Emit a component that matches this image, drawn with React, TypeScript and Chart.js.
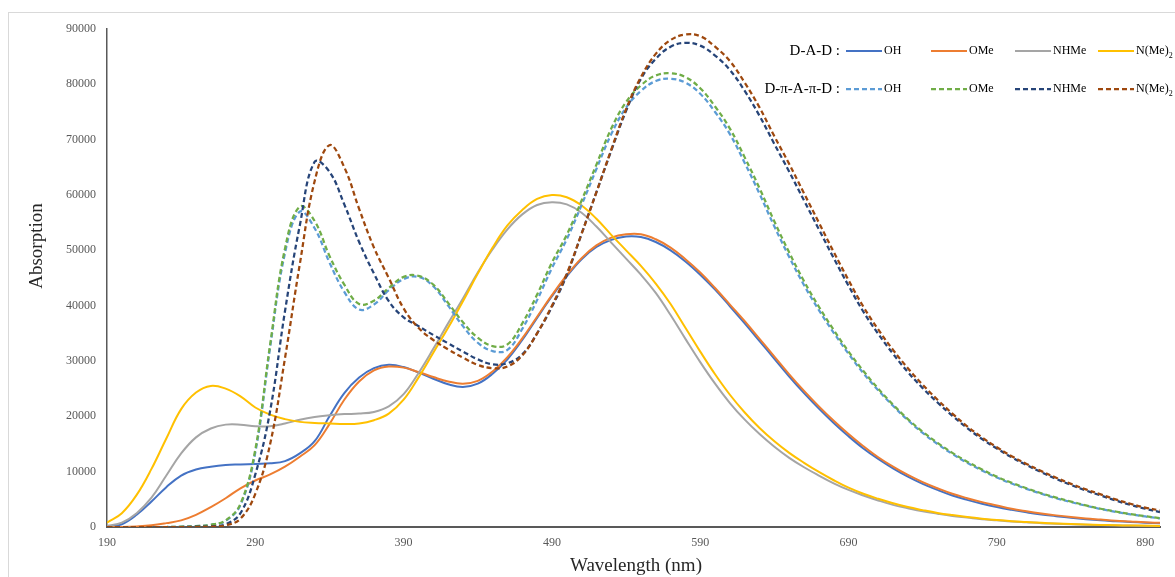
import React, { useEffect, useRef } from "react";
import { Chart, registerables } from "chart.js";

Chart.register(...registerables);

// Wavelength grid (nm)
const wavelengths = [
  190, 200, 210, 220, 230, 240, 250, 260, 270, 280, 290, 300, 310, 320, 330, 340, 350, 360,
  370, 380, 390, 400, 410, 420, 430, 440, 450, 460, 470, 480, 490, 500, 510, 520, 530, 540,
  550, 560, 570, 580, 590, 600, 610, 620, 630, 640, 650, 660, 670, 680, 690, 700, 710, 720,
  730, 740, 750, 760, 770, 780, 790, 800, 810, 820, 830, 840, 850, 860, 870, 880, 890, 900,
];

const xTickValues = [190, 290, 390, 490, 590, 690, 790, 890];
const yMin = 0;
const yMax = 90000;
const yStep = 10000;

const substituents = ["OH", "OMe", "NHMe", "N(Me)2"];
const groupNames = ["D-A-D :", "D-π-A-π-D :"];

// D-A-D series
const dadOH = [
  0, 500, 2200, 4600, 7200, 9300, 10400, 10900, 11200, 11300, 11400, 11500, 11900, 13300, 15500, 20000, 24200, 27000,
  28700, 29300, 28900, 27900, 26800, 25800, 25300, 25900, 27700, 30300, 33800, 37800, 41700, 45300, 48400, 50600, 51900, 52500,
  52400, 51500, 50000, 48000, 45600, 42900, 39900, 36800, 33600, 30400, 27200, 24200, 21400, 18800, 16400, 14200, 12300, 10600,
  9100, 7800, 6700, 5700, 4900, 4200, 3600, 3100, 2650, 2250, 1950, 1650, 1400, 1200, 1050, 900, 780, 680,
];
const dadOMe = [
  0, 0, 100, 300, 700, 1200, 2200, 3600, 5200, 7000, 8400, 9500, 10900, 12700, 14800, 18600, 23000, 26300,
  28300, 29000, 28800, 28000, 27100, 26300, 25900, 26400, 28100, 30700, 34100, 38000, 41900, 45500, 48600, 50900, 52300, 52900,
  52900, 52000, 50500, 48400, 46000, 43200, 40200, 37200, 34000, 30800, 27600, 24600, 21800, 19200, 16800, 14600, 12600, 10900,
  9400, 8100, 7000, 6000, 5200, 4500, 3900, 3300, 2850, 2450, 2100, 1800, 1550, 1350, 1150, 1000, 850, 750,
];
const dadNHMe = [
  200, 800, 2500, 5300, 9300, 13300, 16200, 17800, 18500, 18500, 18200, 18200, 18700, 19400, 19900, 20200, 20400, 20500,
  20800, 21800, 24000, 27800, 32200, 36800, 41300, 46000, 50200, 53800, 56500, 58200, 58700, 58300, 56800, 54300, 51400, 48500,
  45600, 42300, 38300, 34000, 29800, 25900, 22400, 19400, 16800, 14500, 12500, 10800, 9300, 7900, 6700, 5700, 4800, 4000,
  3400, 2850, 2400, 2000, 1700, 1400, 1200, 1000, 850, 700, 600, 500, 420, 350, 300, 250, 210, 180,
];
const dadNMe2 = [
  800, 2500, 5800, 10500, 16000, 21300, 24300, 25500, 25000, 23600, 21600, 20300, 19500, 19000, 18800, 18700, 18600, 18700,
  19300, 20500, 23000, 27000, 31500, 36000, 40800, 45800, 50500, 54500, 57300, 59300, 60000, 59600, 58100, 55700, 52800, 50000,
  47200, 44000, 40300, 36000, 31700, 27600, 23900, 20700, 17900, 15500, 13400, 11600, 9950, 8450, 7100, 6000, 5100, 4300,
  3600, 3050, 2550, 2150, 1800, 1500, 1250, 1050, 900, 750, 640, 540, 450, 380, 320, 270, 230, 190,
];

// D-π-A-π-D series
const dpdOH = [
  0, 0, 0, 0, 0, 50, 150, 400, 1100, 4000, 13500, 32500, 49500, 57000, 54000, 47800, 42500, 39300,
  40200, 42800, 44800, 45200, 43500, 40000, 36300, 33300, 31800, 32000, 35800, 41000, 46800, 52000, 58200, 64700, 71000, 75800,
  78800, 80600, 81000, 80300, 78300, 75000, 71000, 65800, 60200, 54300, 48800, 43700, 39200, 35100, 31300, 27800, 24700, 21900,
  19300, 17000, 15000, 13200, 11600, 10200, 8950, 7850, 6900, 6000, 5200, 4500, 3850, 3250, 2750, 2300, 1900, 1550,
];
const dpdOMe = [
  0, 0, 0, 0, 0, 50, 150, 400, 1200, 4200, 14000, 33000, 50300, 57900, 55300, 49000, 43800, 40300,
  40900, 43200, 45200, 45400, 43800, 40500, 37000, 34200, 32700, 33000, 36800, 42000, 47800, 52800, 59000, 65500, 72000, 76800,
  79800, 81600, 82000, 81300, 79300, 76000, 72000, 66800, 61200, 55200, 49600, 44400, 39800, 35600, 31700, 28200, 25000, 22100,
  19500, 17200, 15200, 13400, 11800, 10400, 9100, 8000, 7000, 6100, 5300, 4600, 3900, 3300, 2800, 2350, 1950, 1600,
];
const dpdNHMe = [
  0, 0, 0, 0, 0, 0, 50, 100, 500, 2500, 9500, 21000, 39000, 54500, 66000, 64200, 58300, 51500,
  45800, 40800, 37900, 36300, 34700, 33200, 31700, 30300, 29400, 29600, 31200, 35000, 39800, 45500, 53000, 60500, 68000, 75200,
  81000, 84600, 86800, 87500, 87000, 85200, 82600, 78800, 74300, 69200, 64200, 59000, 53800, 48600, 43600, 38900, 34900, 31300,
  28000, 25100, 22500, 20100, 17900, 15900, 14200, 12600, 11200, 9900, 8700, 7600, 6600, 5700, 4800, 4000, 3300, 2700,
];
const dpdNMe2 = [
  0, 0, 0, 0, 0, 0, 0, 50, 300, 1500, 6000, 15000, 30500, 47500, 62500, 69000, 65000, 57500,
  50500, 45000, 39500, 36000, 33800, 32100, 30600, 29300, 28700, 29000, 31000, 35000, 40000, 45800, 53000, 60500, 68200, 75500,
  81300, 85500, 88000, 89000, 88700, 86800, 84200, 80300, 75800, 70600, 65600, 60300, 55000, 49700, 44600, 39800, 35700, 32000,
  28700, 25700, 23000, 20500, 18200, 16200, 14400, 12800, 11400, 10100, 8900, 7800, 6800, 5900, 5000, 4200, 3500, 3000,
];

const solidColors = ["#4472C4", "#ED7D31", "#A5A5A5", "#FFC000"];
const dashedColors = ["#5B9BD5", "#70AD47", "#264478", "#9E480E"];
const DASH = [5, 3];

const FONT = "'Liberation Serif', 'Times New Roman', serif";

export default function App() {
  const ref = useRef<HTMLCanvasElement>(null);

  useEffect(() => {
    const canvas = ref.current;
    if (!canvas) return;

    const solidSeries = [dadOH, dadOMe, dadNHMe, dadNMe2];
    const dashedSeries = [dpdOH, dpdOMe, dpdNHMe, dpdNMe2];

    const toPoints = (vals: number[]) => wavelengths.map((w, i) => ({ x: w, y: vals[i] }));

    const datasets: any[] = [];
    solidSeries.forEach((vals, i) => {
      datasets.push({
        label: "D-A-D " + substituents[i],
        data: toPoints(vals),
        borderColor: solidColors[i],
        backgroundColor: solidColors[i],
        borderWidth: 2,
        pointRadius: 0,
        tension: 0.4,
        fill: false,
      });
    });
    dashedSeries.forEach((vals, i) => {
      datasets.push({
        label: "D-π-A-π-D " + substituents[i],
        data: toPoints(vals),
        borderColor: dashedColors[i],
        backgroundColor: dashedColors[i],
        borderWidth: 2.25,
        borderDash: DASH,
        pointRadius: 0,
        tension: 0.4,
        fill: false,
      });
    });
    // later series drawn on top (like the spreadsheet original)
    datasets.forEach((d, i) => (d.order = datasets.length - 1 - i));

    const decor = {
      id: "decor",
      beforeDraw(chart: any) {
        const ctx = chart.ctx;
        ctx.save();
        ctx.fillStyle = "#ffffff";
        ctx.fillRect(0, 0, chart.width, chart.height);
        ctx.strokeStyle = "#D9D9D9";
        ctx.lineWidth = 1;
        ctx.strokeRect(8.5, 12.5, 1400, 800);
        ctx.restore();
      },
      afterDraw(chart: any) {
        const ctx = chart.ctx;
        ctx.save();
        // axis titles
        ctx.fillStyle = "#262626";
        ctx.font = `19px ${FONT}`;
        ctx.textAlign = "center";
        ctx.textBaseline = "middle";
        ctx.fillText("Wavelength (nm)", 636, 566);
        ctx.save();
        ctx.translate(37, 246);
        ctx.rotate(-Math.PI / 2);
        ctx.fillText("Absorption", 0, 0);
        ctx.restore();

        // legend
        const rows = [51, 89];
        const lineStarts = [846, 931, 1015, 1098];
        const lineLen = 36;
        rows.forEach((ry, r) => {
          ctx.font = `15px ${FONT}`;
          ctx.fillStyle = "#000000";
          ctx.textAlign = "right";
          ctx.textBaseline = "middle";
          ctx.fillText(groupNames[r], 840, ry);
          for (let i = 0; i < 4; i++) {
            const x0 = lineStarts[i];
            ctx.beginPath();
            ctx.strokeStyle = r === 0 ? solidColors[i] : dashedColors[i];
            ctx.lineWidth = r === 0 ? 2 : 2.25;
            ctx.setLineDash(r === 0 ? [] : DASH);
            ctx.moveTo(x0, ry);
            ctx.lineTo(x0 + lineLen, ry);
            ctx.stroke();
            ctx.setLineDash([]);
            ctx.fillStyle = "#000000";
            ctx.textAlign = "left";
            ctx.font = `12px ${FONT}`;
            const name = substituents[i];
            if (name.endsWith("2")) {
              const main = name.slice(0, -1);
              ctx.fillText(main, x0 + lineLen + 2, ry);
              const w = ctx.measureText(main).width;
              ctx.font = `8px ${FONT}`;
              ctx.fillText("2", x0 + lineLen + 2 + w, ry + 5);
            } else {
              ctx.fillText(name, x0 + lineLen + 2, ry);
            }
          }
        });
        ctx.restore();
      },
    };

    const chart = new Chart(canvas, {
      type: "line",
      data: { datasets },
      options: {
        animation: false,
        responsive: false,
        maintainAspectRatio: false,
        layout: { padding: { left: 0, right: 15, top: 29, bottom: 0 } },
        plugins: {
          legend: { display: false },
          tooltip: { enabled: false },
        },
        elements: { point: { radius: 0 } },
        scales: {
          x: {
            type: "linear",
            min: wavelengths[0],
            max: wavelengths[wavelengths.length - 1],
            afterBuildTicks: (s: any) => {
              s.ticks = xTickValues.map((v) => ({ value: v }));
            },
            afterFit: (s: any) => {
              s.height = 50;
            },
            grid: { display: false, drawTicks: false },
            border: { display: true, color: "#595959", width: 2 },
            ticks: {
              padding: 9,
              color: "#595959",
              font: { family: FONT, size: 12 },
              maxRotation: 0,
              autoSkip: false,
              callback: (v: any) => String(v),
            },
          },
          y: {
            min: yMin,
            max: yMax,
            afterFit: (s: any) => {
              s.width = 107;
            },
            grid: { display: false, drawTicks: false },
            border: { display: true, color: "#595959", width: 1.5 },
            ticks: {
              stepSize: yStep,
              padding: 11,
              color: "#595959",
              font: { family: FONT, size: 12 },
              callback: (v: any) => String(v),
            },
          },
        },
      },
      plugins: [decor],
    });

    return () => chart.destroy();
  }, []);

  return (
    <div style={{ position: "fixed", left: 0, top: 0, width: 1175, height: 577, background: "#ffffff" }}>
      <canvas ref={ref} width={1175} height={577} style={{ display: "block" }} />
    </div>
  );
}
